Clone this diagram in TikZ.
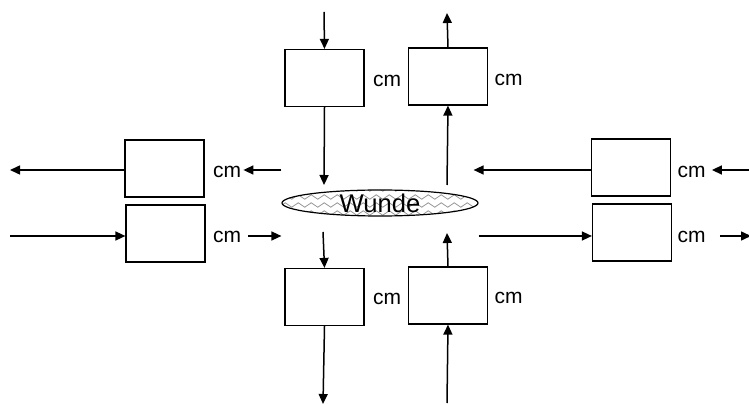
\documentclass[tikz,border=0pt]{standalone}
\usepackage{fontspec}
\setmainfont{Liberation Sans}
\usepackage{tikz}
\usetikzlibrary{shapes.geometric, arrows.meta, positioning, decorations.pathmorphing}
\definecolor{zigzaggray}{RGB}{150,150,150}
\tikzset{
  flowbox/.style={
    draw=black, line width=0.6pt, minimum width=39.5pt,
    minimum height=28.5pt, inner sep=0pt
  },
  unitlabel/.style={
    font=\fontsize{10.5}{12}\selectfont, inner sep=0pt
  },
  woundshape/.style={
    ellipse, draw=black, line width=0.6pt, fill=white,
    minimum width=98pt, minimum height=13pt, inner sep=0pt,
    path picture={
      \foreach \dy in {-5pt,-1pt,3pt,7pt}
        \draw[zigzaggray, line width=0.4pt, decorate,
              decoration={zigzag, segment length=6.5pt, amplitude=1.1pt}]
          ([yshift=\dy]path picture bounding box.west) --
          ([yshift=\dy]path picture bounding box.east);
    }
  },
  flowarrow/.style={
    -{Triangle[length=5pt,width=4.5pt]},
    draw=black, line width=0.75pt
  },
}

\begin{document}
\begin{tikzpicture}[x=0.5pt, y=-0.5pt]
    \useasboundingbox (0,0) rectangle (749,405);

    %% Wound in the middle
    \node[woundshape, label={[font=\fontsize{12.8}{14}\selectfont, inner sep=0pt]center:Wunde}]
      (wound) at (380,203) {};

    %% Boxes above and below
    \node[flowbox] (tl) at (324.5,78) {};
    \node[flowbox] (tr) at (448,76.5) {};
    \node[flowbox] (bl) at (324.5,297) {};
    \node[flowbox] (br) at (448,295.5) {};

    %% Boxes left and right
    \node[flowbox] (lu) at (164.5,168.5) {};
    \node[flowbox] (ll) at (165.5,233.5) {};
    \node[flowbox] (ru) at (631,167.5) {};
    \node[flowbox] (rl) at (632,232.5) {};

    %% Units
    \node[unitlabel, right=4pt of tl, yshift=-1.5pt] (tlcm) {cm};
    \node[unitlabel, right=3pt of tr, yshift=-1.5pt] (trcm) {cm};
    \node[unitlabel, right=4pt of bl, yshift=-1pt] (blcm) {cm};
    \node[unitlabel, right=3pt of br, yshift=-1pt] (brcm) {cm};
    \node[unitlabel, right=4pt of lu, yshift=-1.5pt] (lucm) {cm};
    \node[unitlabel, right=3.5pt of ll, yshift=-1.5pt] (llcm) {cm};
    \node[unitlabel, right=3pt of ru, yshift=-2pt] (rucm) {cm};
    \node[unitlabel, right=2.5pt of rl, yshift=-2pt] (rlcm) {cm};

    %% Free ends
    \coordinate (topin) at (324,12);
    \coordinate (topout) at (447,13);
    \coordinate (botout) at (323,404);
    \coordinate (botin) at (447,403);
    \coordinate (tlwound) at (324,185);
    \coordinate (trwound) at (447,185);
    \coordinate (blwound) at (323,232);
    \coordinate (brwound) at (447,233);
    \coordinate (leftout) at (10,170);
    \coordinate (leftin) at (10,236);
    \coordinate (rightin) at (749,170);
    \coordinate (rightout) at (751,236);

    %% Vertical flows
    \draw[flowarrow] (topin) -- (tl.north);
    \draw[flowarrow] (tl.south) -- (tlwound);
    \draw[flowarrow] (tr.north) -- (topout);
    \draw[flowarrow] (trwound) -- (tr.south);
    \draw[flowarrow] (blwound) -- (bl.north);
    \draw[flowarrow] (bl.south) -- (botout);
    \draw[flowarrow] (br.north) -- (brwound);
    \draw[flowarrow] (botin) -- (br.south);

    %% Horizontal flows, left
    \draw[flowarrow] (lu.west |- leftout) -- (leftout);
    \draw[flowarrow] (leftin) -- (ll.west |- leftin);
    \draw[flowarrow] (wound.west |- leftout) -- ([xshift=1pt]lucm.east |- leftout);
    \draw[flowarrow] ([xshift=3.5pt]llcm.east |- leftin) -- (wound.west |- leftin);

    %% Horizontal flows, right
    \draw[flowarrow] (ru.west |- rightin) -- ([xshift=-2.5pt]wound.east |- rightin);
    \draw[flowarrow] (wound.east |- rightout) -- (rl.west |- rightout);
    \draw[flowarrow] (rightin) -- ([xshift=3pt]rucm.east |- rightin);
    \draw[flowarrow] ([xshift=7pt]rlcm.east |- rightout) -- (rightout);

  \end{tikzpicture}
\end{document}
